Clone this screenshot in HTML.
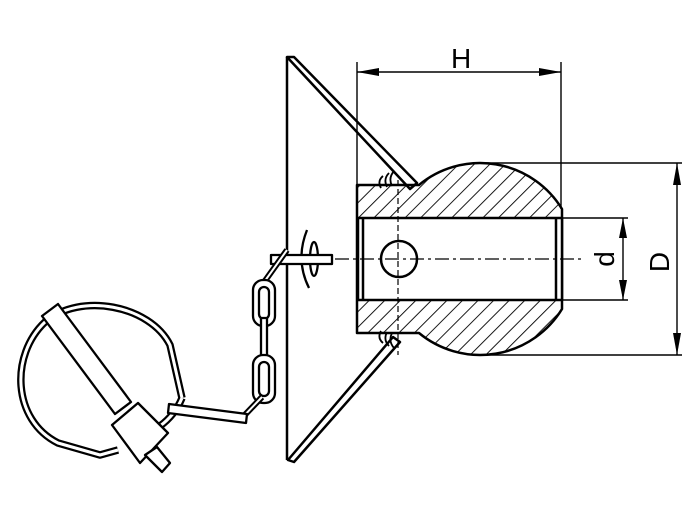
<!DOCTYPE html>
<html><head><meta charset="utf-8"><style>html,body{margin:0;padding:0;background:#fff}svg{display:block}</style></head>
<body>
<svg width="700" height="519" viewBox="0 0 700 519" xmlns="http://www.w3.org/2000/svg">
<defs>
<pattern id="h" patternUnits="userSpaceOnUse" width="11" height="11" patternTransform="rotate(45)">
<line x1="0" y1="0" x2="0" y2="11" stroke="#000" stroke-width="1.8"/>
</pattern>
</defs>
<g fill="none" stroke="#000" stroke-width="2.5" stroke-linejoin="round">
<!-- plate -->
<line x1="287" y1="57" x2="287" y2="460"/>
<path d="M287 57 L294 57 L417 183 L410 189 Z" fill="#fff"/>
<path d="M288 460 L294 462 L400 342 L393 337 Z" fill="#fff"/>
<!-- weld -->
<path d="M383 176 q-6 5 -2 12 M389 173 q-6 6 -2 14 M394 171 q-6 7 -2 15" stroke-width="1.8"/>
<path d="M383 343 q-6 -5 -2 -12 M389 346 q-6 -6 -2 -14 M394 348 q-6 -7 -2 -15" stroke-width="1.8"/>
<!-- body -->
<path d="M357 185 L419 185 A96 96 0 0 1 562 209 L562 309 A96 96 0 0 1 419 333 L357 333 Z" fill="url(#h)"/>
<rect x="358" y="218" width="204" height="82" fill="#fff"/>
<line x1="363" y1="218" x2="363" y2="300"/>
<line x1="556" y1="218" x2="556" y2="300"/>
<circle cx="399" cy="259" r="18" fill="#fff"/>
<line x1="398" y1="180" x2="398" y2="355" stroke-width="1.2" stroke-dasharray="6 3"/>
<line x1="335" y1="259" x2="582" y2="259" stroke-width="1.3" stroke-dasharray="14 4 3 4"/>
<!-- dimensions -->
<g stroke-width="1.4">
<line x1="357" y1="62" x2="357" y2="185"/>
<line x1="561" y1="62" x2="561" y2="209"/>
<line x1="357" y1="72" x2="561" y2="72"/>
<line x1="562" y1="218" x2="628" y2="218"/>
<line x1="562" y1="300" x2="628" y2="300"/>
<line x1="623" y1="218" x2="623" y2="300"/>
<line x1="480" y1="163" x2="682" y2="163"/>
<line x1="480" y1="355" x2="682" y2="355"/>
<line x1="677" y1="163" x2="677" y2="355"/>
</g>
</g>
<g fill="#000">
<path d="M357 72 l22 -4 v8z"/><path d="M561 72 l-22 -4 v8z"/>
<path d="M623 218 l-4 20 h8z"/><path d="M623 300 l-4 -20 h8z"/>
<path d="M677 163 l-4 22 h8z"/><path d="M677 355 l-4 -22 h8z"/>
</g>
<g font-family="Liberation Sans, sans-serif" font-size="28" fill="#000">
<text x="451" y="68">H</text>
<text transform="translate(614,259) rotate(-90)" text-anchor="middle">d</text>
<text transform="translate(669,262) rotate(-90)" text-anchor="middle">D</text>
</g>
<g fill="#fff" stroke="#000" stroke-width="2.3" stroke-linejoin="round">
<path d="M307 230 q-12 30 2 58" fill="none"/>
<ellipse cx="314" cy="259" rx="4" ry="17"/>
<rect x="271" y="255" width="61" height="9"/>
<line x1="262" y1="285" x2="287" y2="250" stroke-width="6"/>
<line x1="262" y1="285" x2="287" y2="250" stroke="#fff" stroke-width="2"/>
<rect x="253" y="280" width="22" height="46" rx="10"/>
<rect x="259" y="287" width="10" height="32" rx="5"/>
<rect x="261" y="318" width="6" height="44"/>
<rect x="253" y="355" width="22" height="48" rx="10"/>
<rect x="259" y="362" width="10" height="34" rx="5"/>
<line x1="262" y1="397" x2="240" y2="420" stroke-width="6"/>
<line x1="262" y1="397" x2="240" y2="420" stroke="#fff" stroke-width="2"/>
<!-- ring -->
<path d="M182 398 L170 345 C150 305 80 292 45 322 C10 355 12 420 58 443 L100 455 L118 450 M182 398 Q175 415 160 426" fill="none" stroke-width="7.5"/>
<path d="M182 398 L170 345 C150 305 80 292 45 322 C10 355 12 420 58 443 L100 455 L118 450 M182 398 Q175 415 160 426" fill="none" stroke="#fff" stroke-width="3"/>
<path d="M169 404 L247 414 L246 423 L168 413 Z"/>
<!-- pin body -->
<path d="M42 316 L58 304 L131 402 L115 414 Z"/>
<path d="M112 425 L138 403 L168 433 L140 463 Z"/>
<path d="M145 455 L157 447 L170 463 L162 472 Z"/>
</g>
</svg>
</body></html>
